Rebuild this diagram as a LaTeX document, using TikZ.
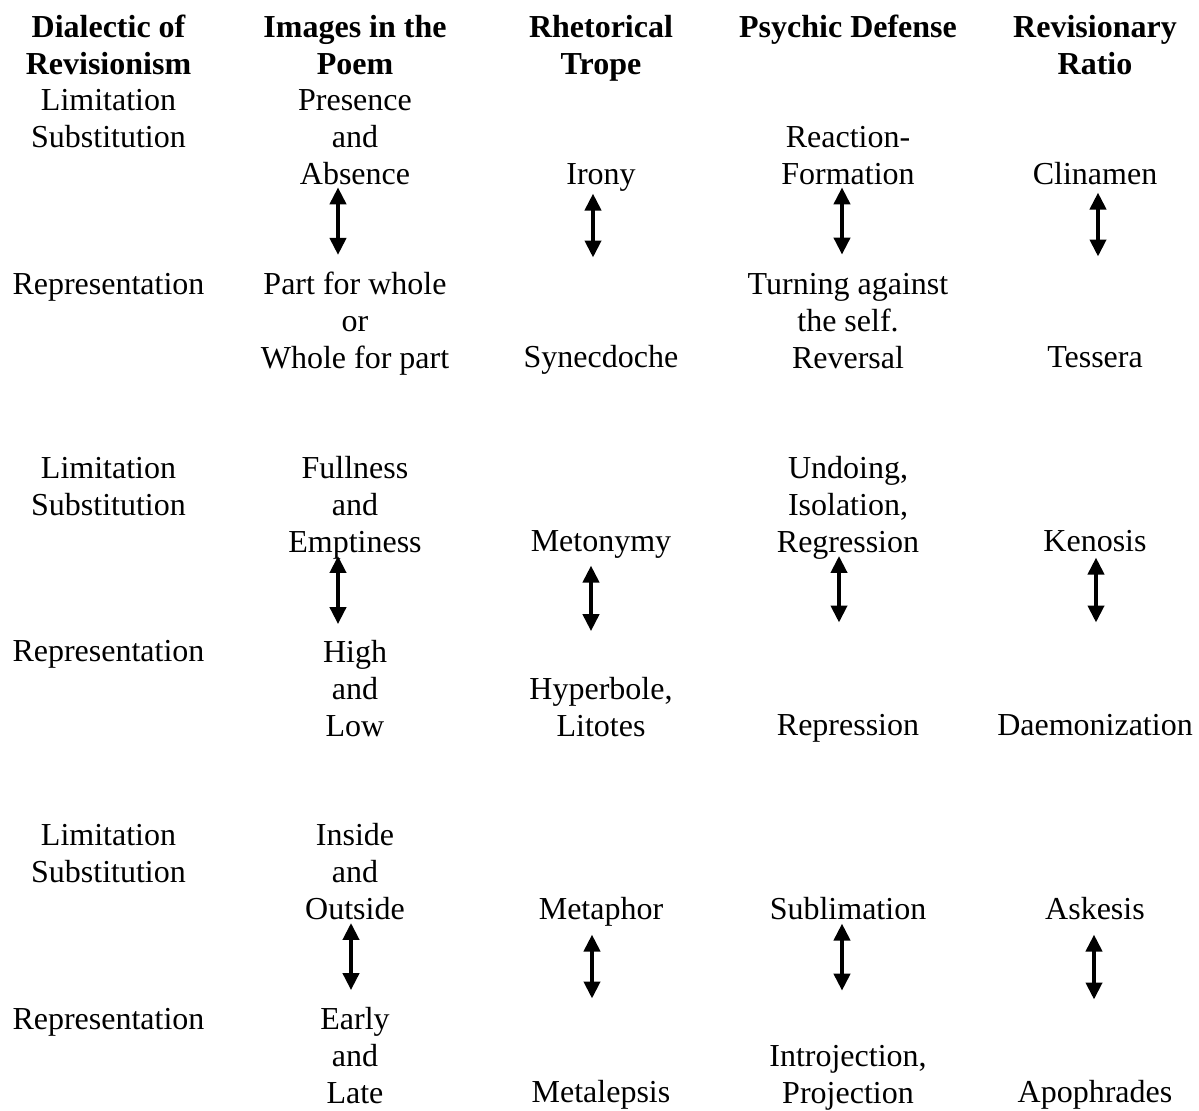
\documentclass[tikz,border=0pt]{standalone}
\usepackage{fontspec}
\setmainfont{Liberation Serif}
\usepackage{tikz}
\usetikzlibrary{arrows.meta}
\tikzset{
    cell/.style={align=center, inner sep=0pt, font=\fontsize{16}{18.5}\selectfont,
        execute at begin node=\strut, execute at end node=\strut},
    multi/.style={cell, yshift=-1.25pt},
    head/.style={multi, font=\fontsize{16}{18.5}\selectfont\bfseries},
    twoway/.style={{Triangle[length=8.5pt,width=8pt]}-{Triangle[length=8.5pt,width=8pt]}, line width=2pt}
}

\begin{document}
\begin{tikzpicture}[x=0.5pt, y=-0.5pt]
    \useasboundingbox (0,0) rectangle (1199,1110);

    % headers
    \node[head] (dial) at (108.5,48.0) {Dialectic of\\Revisionism};
    \node[head] (img) at (355,48.0) {Images in the\\Poem};
    \node[head] (trope) at (601,48.0) {Rhetorical\\Trope};
    \node[cell, font=\fontsize{16}{18.5}\selectfont\bfseries] (def) at (848,29.65) {Psychic Defense};
    \node[head] (ratio) at (1095,48.0) {Revisionary\\Ratio};

    % dialectic
    \node[multi] (lim1) at (108.5,121.5) {Limitation\\Substitution};
    \node[cell] (rep1) at (108.5,286.9) {Representation};
    \node[multi] (lim2) at (108.5,489.0) {Limitation\\Substitution};
    \node[cell] (rep2) at (108.5,654.4) {Representation};
    \node[multi] (lim3) at (108.5,856.5) {Limitation\\Substitution};
    \node[cell] (rep3) at (108.5,1021.9) {Representation};

    % images
    \node[multi] (presence) at (355,139.9) {Presence\\and\\Absence};
    \node[multi] (partwhole) at (355,323.65) {Part for whole\\or\\Whole for part};
    \node[multi] (fullness) at (355,507.4) {Fullness\\and\\Emptiness};
    \node[multi] (highlow) at (355,691.15) {High\\and\\Low};
    \node[multi] (inside) at (355,874.9) {Inside\\and\\Outside};
    \node[multi] (earlylate) at (355,1058.65) {Early\\and\\Late};

    % tropes
    \node[cell] (irony) at (601,176.65) {Irony};
    \node[cell] (synec) at (601,360.4) {Synecdoche};
    \node[cell] (meton) at (601,544.15) {Metonymy};
    \node[multi] (hyper) at (601,709.5) {Hyperbole,\\Litotes};
    \node[cell] (metaph) at (601,911.65) {Metaphor};
    \node[cell] (metal) at (601,1095.4) {Metalepsis};

    % defenses
    \node[multi] (reaction) at (848,158.3) {Reaction-\\Formation};
    \node[multi] (turning) at (848,323.65) {Turning against\\the self.\\Reversal};
    \node[multi] (undoing) at (848,507.4) {Undoing,\\Isolation,\\Regression};
    \node[cell] (repress) at (848,727.9) {Repression};
    \node[cell] (sublim) at (848,911.65) {Sublimation};
    \node[multi] (introj) at (848,1077.0) {Introjection,\\Projection};

    % ratios
    \node[cell] (clin) at (1095,176.65) {Clinamen};
    \node[cell] (tess) at (1095,360.4) {Tessera};
    \node[cell] (ken) at (1095,544.15) {Kenosis};
    \node[cell] (daem) at (1095,727.9) {Daemonization};
    \node[cell] (ask) at (1095,911.65) {Askesis};
    \node[cell] (apo) at (1095,1095.4) {Apophrades};

    % arrows
    \draw[twoway, shorten <=-4.25pt, shorten >=8.5pt] ([xshift=-8.5pt]presence.south) -- ([xshift=-8.5pt]partwhole.north);
    \draw[twoway, shorten <=-1pt, shorten >=42pt] ([xshift=-4pt]irony.south) -- ([xshift=-4pt]synec.north);
    \draw[twoway, shorten <=-4.25pt, shorten >=9pt] ([xshift=-3pt]reaction.south) -- ([xshift=-3pt]turning.north);
    \draw[twoway, shorten <=-1.5pt, shorten >=42.5pt] ([xshift=1.5pt]clin.south) -- ([xshift=1.5pt]tess.north);

    \draw[twoway, shorten <=-4pt, shorten >=7.75pt] ([xshift=-8.5pt]fullness.south) -- ([xshift=-8.5pt]highlow.north);
    \draw[twoway, shorten <=1.25pt, shorten >=22.65pt] ([xshift=-5pt]meton.south) -- ([xshift=-5pt]hyper.north);
    \draw[twoway, shorten <=-4pt, shorten >=43.25pt] ([xshift=-4.5pt]undoing.south) -- ([xshift=-4.5pt]repress.north);
    \draw[twoway, shorten <=-2.75pt, shorten >=43.25pt] ([xshift=0.5pt]ken.south) -- ([xshift=0.5pt]daem.north);

    \draw[twoway, shorten <=-4.25pt, shorten >=8.5pt] ([xshift=-2pt]inside.south) -- ([xshift=-2pt]earlylate.north);
    \draw[twoway, shorten <=2pt, shorten >=39pt] ([xshift=-4.5pt]metaph.south) -- ([xshift=-4.5pt]metal.north);
    \draw[twoway, shorten <=-3.5pt, shorten >=26.9pt] ([xshift=-3pt]sublim.south) -- ([xshift=-3pt]introj.north);
    \draw[twoway, shorten <=2pt, shorten >=38.5pt] ([xshift=-0.5pt]ask.south) -- ([xshift=-0.5pt]apo.north);
\end{tikzpicture}
\end{document}
